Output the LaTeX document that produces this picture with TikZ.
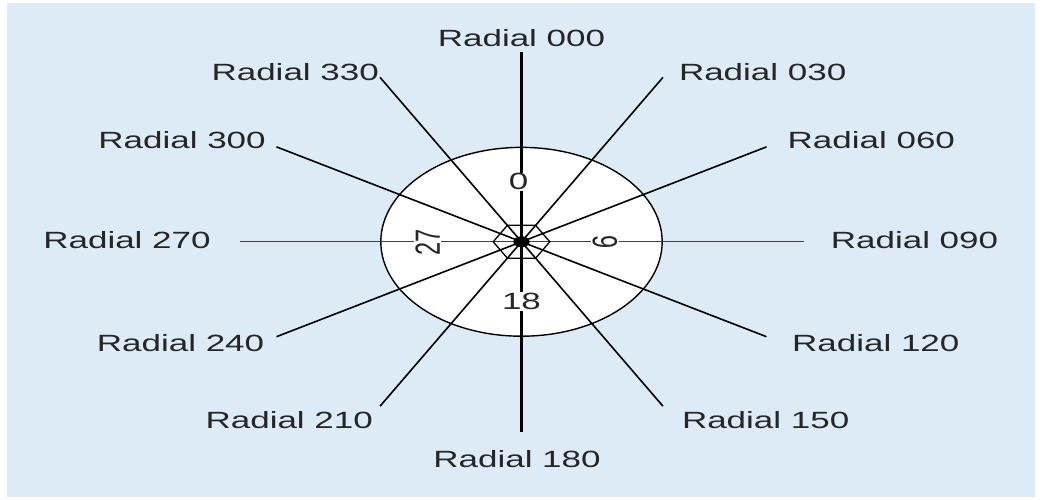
\documentclass[tikz,border=0pt]{standalone}
\usepackage{fontspec}
\setmainfont{Liberation Sans}
\usetikzlibrary{shapes.geometric}
\definecolor{chartbg}{RGB}{221,235,246}
\definecolor{inkgrey}{RGB}{38,38,38}

\begin{document}
\begin{tikzpicture}[x=1pt,y=1pt,xscale=1.49,transform shape,
    font=\fontsize{23.5}{28}\selectfont,text=inkgrey,
    radial/.style={line width=1.6pt},
    vert/.style={line width=2.4pt},
    horiz/.style={line width=1.3pt,black!75},
    lab/.style={inner sep=0pt},
    num/.style={fill=white,inner sep=1pt}]
        % page and background
        \fill[white] (-350.3,242) rectangle (350.3,-258);
        \useasboundingbox (-350.3,242) rectangle (350.3,-258);
        \fill[chartbg] (-345.6,239) rectangle (345,-255);
        % compass card
        \node[circle,draw,fill=white,line width=1.4pt,minimum size=189pt,inner sep=0pt] (dial) at (0,0) {};
        \coordinate (c) at (0,0);
        \coordinate (e000) at (90:190);
        \coordinate (e030) at (60:190);
        \coordinate (e060) at (30:190);
        \coordinate (e090) at (0:190);
        \coordinate (e120) at (-30:190);
        \coordinate (e150) at (-60:190);
        \coordinate (e180) at (-90:190);
        \coordinate (e210) at (-120:190);
        \coordinate (e240) at (-150:190);
        \coordinate (e270) at (180:189);
        \coordinate (e300) at (150:190);
        \coordinate (e330) at (120:190);
        \draw[vert] (c) -- (e000);
        \draw[vert] (c) -- (e180);
        \draw[horiz] (c) -- (e090);
        \draw[horiz] (c) -- (e270);
        \draw[radial] (c) -- (e030);
        \draw[radial] (c) -- (e060);
        \draw[radial] (c) -- (e120);
        \draw[radial] (c) -- (e150);
        \draw[radial] (c) -- (e210);
        \draw[radial] (c) -- (e240);
        \draw[radial] (c) -- (e300);
        \draw[radial] (c) -- (e330);
        \node[regular polygon,regular polygon sides=6,draw,line width=1.3pt,minimum size=38pt,inner sep=0pt] (hub) at (c) {};
        \fill (c) circle (5.5);
        % card numbers
        \node[num] (n0) at (-2,60) {0};
        \node[num] (n9) at (56,0) [rotate=-90] {9};
        \node[num] (n18) at (0,-60) {18};
        \node[num] (n27) at (-63,-1) [rotate=90] {27};
        % radial labels
        \node[lab] (r000) at (0,204) {Radial 000};
        \node[lab] (r030) at (162,170) {Radial 030};
        \node[lab] (r060) at (235,102) {Radial 060};
        \node[lab] (r090) at (264,2) {Radial 090};
        \node[lab] (r120) at (238,-101) {Radial 120};
        \node[lab] (r150) at (164,-178) {Radial 150};
        \node[lab] (r180) at (-3,-218) {Radial 180};
        \node[lab] (r210) at (-156,-178) {Radial 210};
        \node[lab] (r240) at (-229,-101) {Radial 240};
        \node[lab] (r270) at (-265,2) {Radial 270};
        \node[lab] (r300) at (-228,102) {Radial 300};
        \node[lab] (r330) at (-152,170) {Radial 330};
\end{tikzpicture}
\end{document}
